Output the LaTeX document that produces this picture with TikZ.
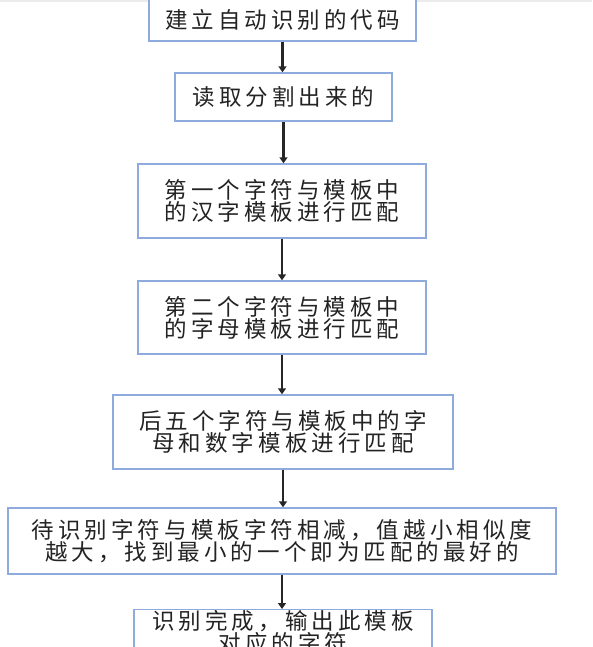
\documentclass[tikz,border=0pt]{standalone}
\usepackage{fontspec}
\newfontfamily\cjk[LetterSpace=18]{Noto Sans CJK SC}
\usetikzlibrary{arrows.meta}
\definecolor{boxblue}{RGB}{143,170,220}
\definecolor{txt}{RGB}{35,35,35}
\tikzset{
  box/.style={draw=boxblue, line width=1.4pt, fill=white, inner sep=0pt, align=center,
    font=\fontsize{22.5}{22}\selectfont\cjk, text=txt},
  lbl/.style={inner sep=0pt, align=center, font=\fontsize{22.5}{22}\selectfont\cjk, text=txt},
  arr/.style={-{Triangle[length=6pt,width=8pt]}, line width=2.2pt, draw=black!85}
}
\begin{document}
\begin{tikzpicture}[x=1pt,y=-1pt]
\useasboundingbox (0,0) rectangle (592,647);
\fill[black!8] (0,0) rectangle (592,2.5);
\node[box, minimum width=267pt, minimum height=42pt] (b1) at (282.5,20) {建立自动识别的代码};
\node[box, minimum width=217pt, minimum height=48pt] (b2) at (283.5,97) {读取分割出来的};
\node[box, minimum width=288pt, minimum height=74pt] (b3) at (282,201) {第一个字符与模板中\\的汉字模板进行匹配};
\node[box, minimum width=288pt, minimum height=73pt] (b4) at (282,317.5) {第二个字符与模板中\\的字母模板进行匹配};
\node[box, minimum width=340pt, minimum height=74pt] (b5) at (283,432) {后五个字符与模板中的字\\母和数字模板进行匹配};
\node[box, minimum width=548pt, minimum height=66pt] (b6) at (282,541) {待识别字符与模板字符相减，值越小相似度\\越大，找到最小的一个即为匹配的最好的};
\node[box, minimum width=298pt, minimum height=60pt, anchor=north] (b7) at (283,609) {};
\node[lbl] (t7) at (283,631.5) {识别完成，输出此模板\\对应的字符};
\draw[arr] (b1.south) -- (b1.south |- b2.north);
\draw[arr] (b2.south) -- (b2.south |- b3.north);
\draw[arr] (b3.south) -- (b3.south |- b4.north);
\draw[arr] (b4.south) -- (b4.south |- b5.north);
\draw[arr] (b5.south) -- (b5.south |- b6.north);
\draw[arr] (b6.south) -- (b6.south |- b7.north);
\end{tikzpicture}
\end{document}
